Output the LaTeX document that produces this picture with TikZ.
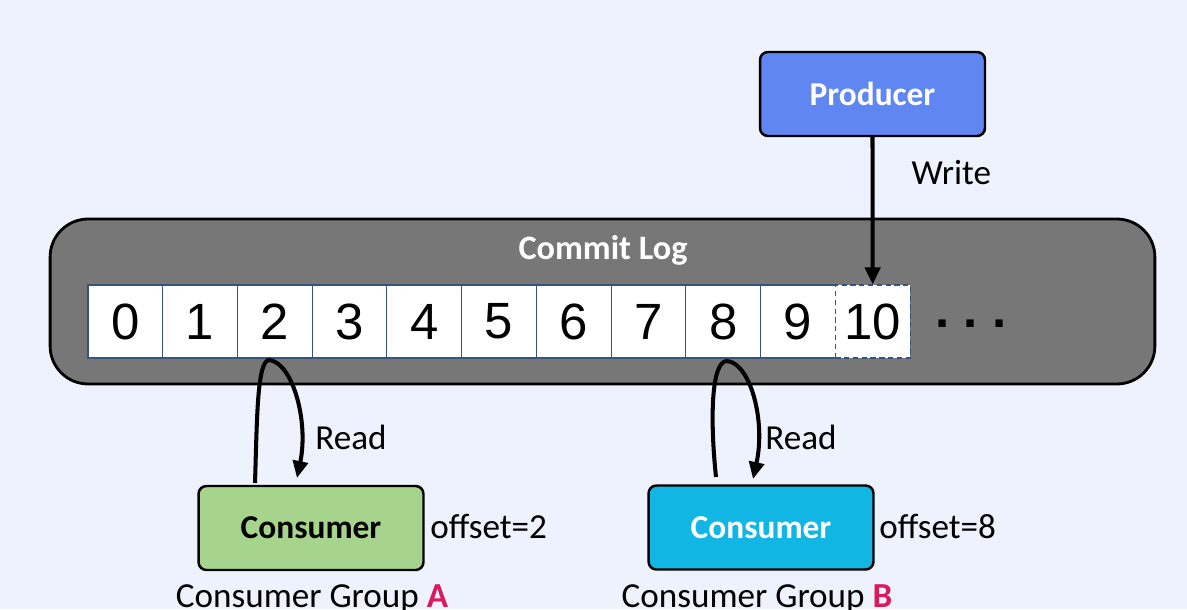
\documentclass[tikz,border=0pt]{standalone}
\usepackage{fontspec}
\setmainfont{Carlito}
\newfontfamily\digitfont{Liberation Sans}
\usetikzlibrary{arrows.meta}
\definecolor{bgcol}{HTML}{EEF2FC}
\definecolor{loggray}{HTML}{777777}
\definecolor{cellcol}{HTML}{34547E}
\definecolor{prodblue}{HTML}{5F86F1}
\definecolor{consgreen}{HTML}{A6D48C}
\definecolor{conscyan}{HTML}{12B6E4}
\definecolor{grpred}{HTML}{D81B5E}
\begin{document}
\begin{tikzpicture}[x=0.02cm,y=-0.02cm,>={Triangle[length=0.34cm,width=0.3cm]},
	font=\fontsize{20}{24}\selectfont,
	box/.style={draw=black,line width=1.4pt,rounded corners=4.5pt,minimum width=4.5cm,minimum height=1.68cm,font=\fontsize{19}{23}\selectfont\bfseries},
	cell/.style={draw=cellcol,line width=0.6pt,fill=white,minimum width=1.4945cm,minimum height=1.46cm,inner sep=0pt,font=\fontsize{29}{30}\selectfont\digitfont},
	lbl/.style={inner sep=0pt},
	line/.style={line width=2.3pt}]
	\fill[bgcol] (0,0) rectangle (1187,609);
	\useasboundingbox (0,0) rectangle (1187,609);
	% commit log
	\node[draw=black,line width=1.6pt,fill=loggray,rounded corners=0.76cm,minimum width=22.1cm,minimum height=3.3cm] (log) at (602.5,301.5) {};
	\node[lbl,anchor=base,text=white,font=\fontsize{19.5}{23}\selectfont\bfseries] (loglbl) at (603,259) {Commit Log};
	\foreach \i in {0,...,9}
		\node[cell] (c\i) at ({88+74.73*(\i+0.5)},321.5) {\i};
	\node[cell,dash pattern=on 3pt off 2pt] (c10) at ({88+74.73*10.5},321.5) {10};
	\node[lbl,anchor=base,font=\fontsize{29}{30}\selectfont\digitfont\bfseries] (dots) at (971,327) {.~.~.};
	% producer
	\node[box,fill=prodblue,text=white] (prod) at (872.5,94) {Producer};
	\draw[->,line] (prod.south) -- (c10.north) node[lbl,pos=0.24,anchor=west,xshift=0.74cm]{Write};
	% consumers
	\node[box,fill=consgreen] (ca) at (311,528) {Consumer};
	\node[box,fill=conscyan,text=white] (cb) at (761,527.5) {Consumer};
	\node[lbl,anchor=west] (offa) at (430,526) {offset=2};
	\node[lbl,anchor=west] (offb) at (879,526) {offset=8};
	\node[lbl,anchor=base] (grpa) at (312,607) {Consumer Group \textcolor{grpred}{\textbf{A}}};
	\node[lbl,anchor=base] (grpb) at (757,607) {Consumer Group \textcolor{grpred}{\textbf{B}}};
	% read loops
	\coordinate (ra0) at (255,483);
	\coordinate (ra1) at (269,360);
	\coordinate (ra2) at (297,478);
	\draw[->,line] (ra0) .. controls (257,420) and (257,361) .. (ra1) .. controls (292,362) and (309,420) .. (ra2);
	\node[lbl,anchor=west] (reada) at (315,437) {Read};
	\coordinate (rb0) at (716,477);
	\coordinate (rb1) at (727,361);
	\coordinate (rb2) at (753,479);
	\draw[->,line] (rb0) .. controls (710,420) and (711,361) .. (rb1) .. controls (750,363) and (766,420) .. (rb2);
	\node[lbl,anchor=west] (readb) at (765,437) {Read};
\end{tikzpicture}
\end{document}
